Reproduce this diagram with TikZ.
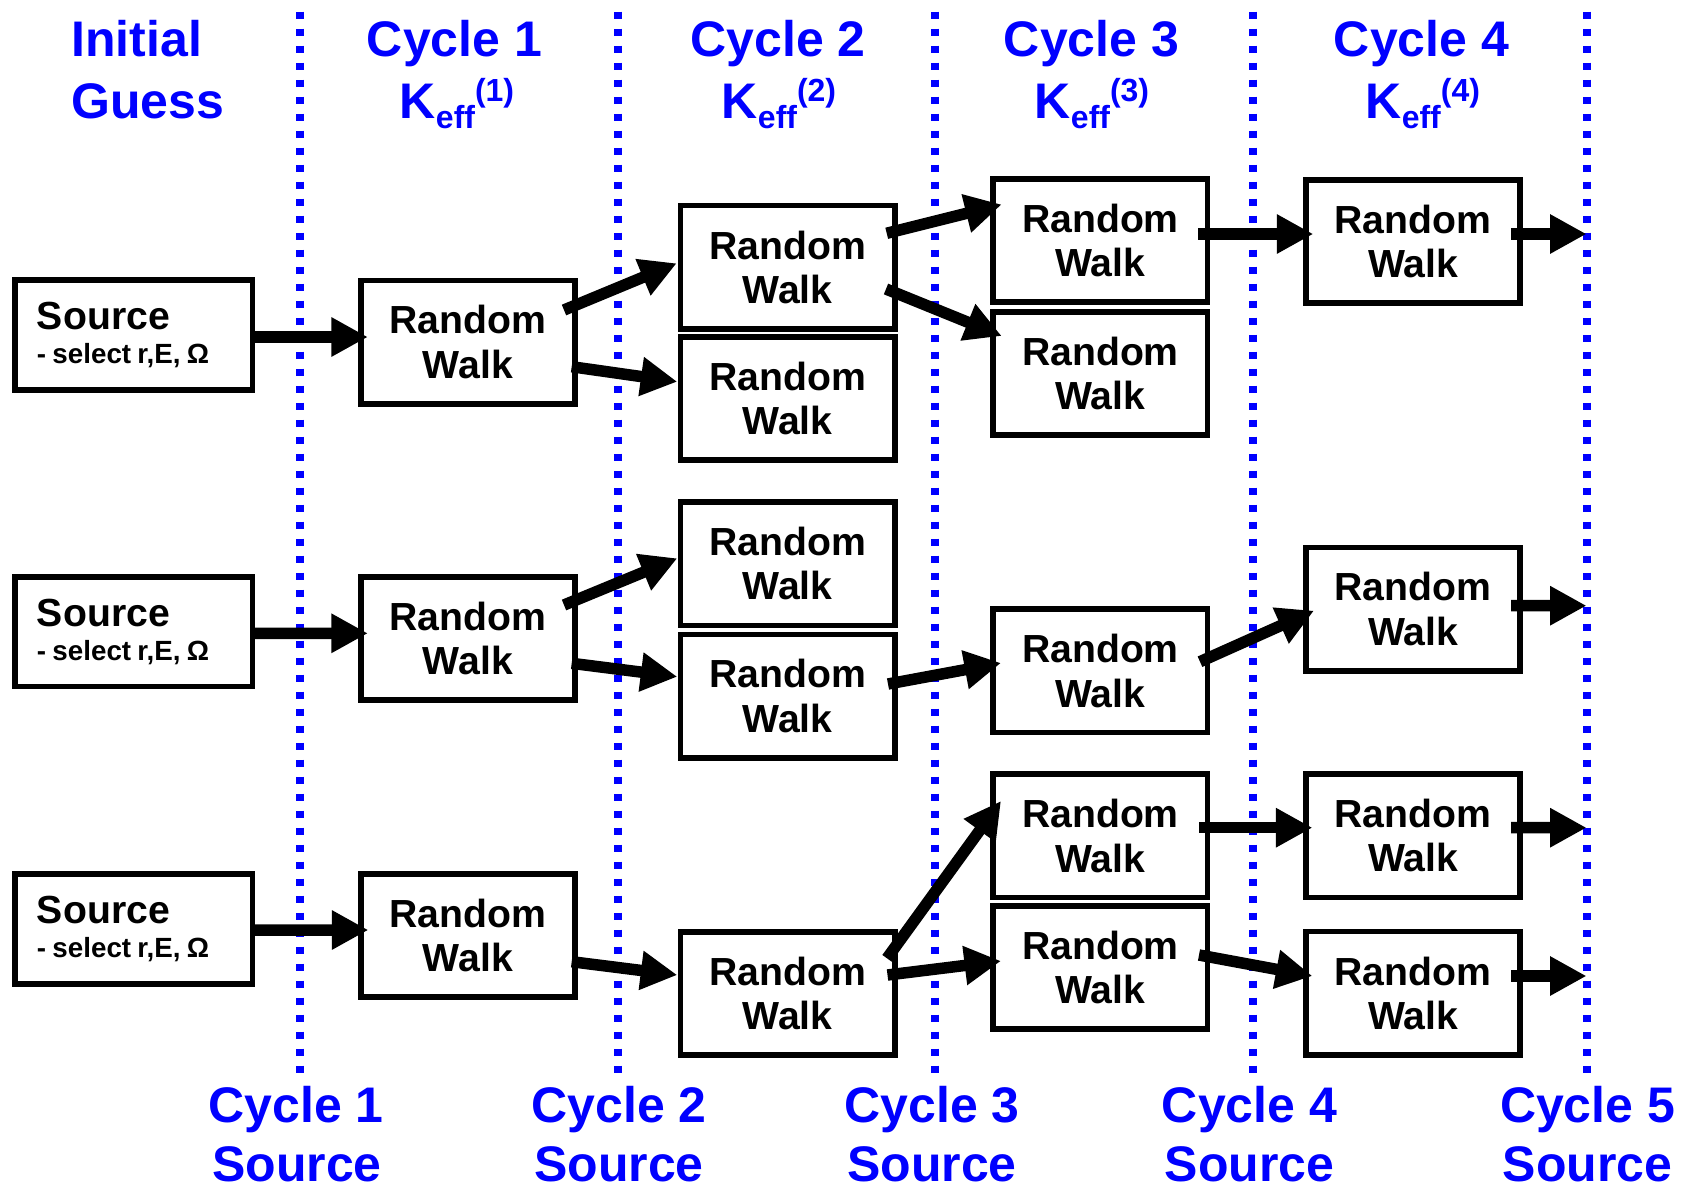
\documentclass[tikz,border=0pt]{standalone}
\usepackage{fontspec}
\setmainfont{Liberation Sans}
\usetikzlibrary{arrows.meta,calc}
\definecolor{cyc}{RGB}{0,0,255}
\newcommand\Keffn[1]{K\raisebox{-2mm}{\fontsize{18.2}{20}\selectfont eff}\raisebox{3.34mm}{\fontsize{18.2}{20}\selectfont (#1)}}
\newcommand\selline{{\fontsize{15.8}{19.35}\selectfont\spaceskip=0.225em\relax - select r,E, Ω}}
\tikzset{
  rwbox/.style={draw=black, line width=1.14mm, fill=white, minimum width=42.86mm, minimum height=24.66mm,
    inner sep=0pt, outer sep=0pt, align=center, font=\fontsize{22.3}{25.2}\selectfont\bfseries},
  srcbox/.style={draw=black, line width=1.14mm, fill=white, minimum width=47.48mm, minimum height=21.94mm,
    inner xsep=4.4mm, inner ysep=0pt, outer sep=0pt, text width=38.7mm, align=left,
    font=\fontsize{22.3}{19.35}\selectfont\bfseries},
  hdr/.style={text=cyc, inner sep=0pt, outer sep=0pt, anchor=base, font=\fontsize{28.45}{34.7}\selectfont\bfseries},
  flow/.style={line width=2.3mm, -{Triangle[length=7.3mm,width=7.4mm]}},
  cycsep/.style={draw=cyc, line width=1.6mm, dash pattern=on 1.46mm off 1.94mm},
}
\begin{document}
\begin{tikzpicture}[x=0.2mm,y=-0.2mm]
\useasboundingbox (0,0) rectangle (1682,1189);

% cycle separators
\foreach \i/\x in {1/300.4,2/618,3/935.4,4/1253,5/1587.3}{
  \coordinate (t\i) at (\x,11.7);
  \coordinate (u\i) at (\x,1074);
  \draw[cycsep] (t\i) -- (u\i);
}

% headers
\node[hdr, anchor=base west] (h0a) at (71.5,56.7) {Initial};
\node[hdr, anchor=base west] (h0b) at (71.5,118.3) {Guess};
\node[hdr] (h1a) at (454.5,56.7) {Cycle 1};
\node[hdr] (h1b) at (457,118.3) {\Keffn{1}};
\node[hdr] (h2a) at (778,56.7) {Cycle 2};
\node[hdr] (h2b) at (779,118.3) {\Keffn{2}};
\node[hdr] (h3a) at (1091.5,56.7) {Cycle 3};
\node[hdr] (h3b) at (1092,118.3) {\Keffn{3}};
\node[hdr] (h4a) at (1421.5,56.7) {Cycle 4};
\node[hdr] (h4b) at (1422.8,118.3) {\Keffn{4}};

% bottom labels
\node[hdr] (b1a) at (296,1122) {Cycle 1};
\node[hdr] (b1b) at (297,1181.5) {Source};
\node[hdr] (b2a) at (619,1122) {Cycle 2};
\node[hdr] (b2b) at (619,1181.5) {Source};
\node[hdr] (b3a) at (932,1122) {Cycle 3};
\node[hdr] (b3b) at (932,1181.5) {Source};
\node[hdr] (b4a) at (1249.5,1122) {Cycle 4};
\node[hdr] (b4b) at (1249.5,1181.5) {Source};
\node[hdr] (b5a) at (1587.6,1122) {Cycle 5};
\node[hdr] (b5b) at (1587.6,1181.5) {Source};

% source boxes
\node[srcbox] (src1) at (133.75,335) {Source\\\selline};
\node[srcbox] (src2) at (133.75,631.7) {Source\\\selline};
\node[srcbox] (src3) at (133.75,928.8) {Source\\\selline};

% random walk boxes
\node[rwbox] (rw1a) at (467.85,342) {Random\\Walk};
\node[rwbox] (rw1b) at (467.85,638.5) {Random\\Walk};
\node[rwbox] (rw1c) at (467.85,935.5) {Random\\Walk};

\node[rwbox] (A) at (787.6,267.2) {Random\\Walk};
\node[rwbox] (B) at (787.6,398.6) {Random\\Walk};
\node[rwbox] (C) at (787.6,563.8) {Random\\Walk};
\node[rwbox] (D) at (787.6,696) {Random\\Walk};
\node[rwbox] (E) at (787.6,993.3) {Random\\Walk};

\node[rwbox] (F) at (1100.4,240.5) {Random\\Walk};
\node[rwbox] (G) at (1100.4,373.3) {Random\\Walk};
\node[rwbox] (H) at (1100.4,670.9) {Random\\Walk};
\node[rwbox] (I) at (1100.4,835.9) {Random\\Walk};
\node[rwbox] (J) at (1100.4,967.5) {Random\\Walk};

\node[rwbox] (K) at (1413,241.5) {Random\\Walk};
\node[rwbox] (L) at (1413,609) {Random\\Walk};
\node[rwbox] (M) at (1413,835.8) {Random\\Walk};
\node[rwbox] (N) at (1413,993.2) {Random\\Walk};

% free ends of the last arrows
\coordinate (o1) at (1586.5,234);
\coordinate (o2) at (1586.5,605.7);
\coordinate (o3) at (1586.5,827.7);
\coordinate (o4) at (1586.5,976);

% arrows
\draw[flow] ($(src1)+(119,2)$) -- ($(rw1a)+(-100,-5)$);
\draw[flow] ($(src2)+(119,1.6)$) -- ($(rw1b)+(-100,-5.2)$);
\draw[flow] ($(src3)+(119,1.2)$) -- ($(rw1c)+(-99.5,-5.5)$);

\draw[flow] ($(rw1a)+(96.15,-32)$) -- ($(A)+(-110.9,-3.9)$);
\draw[flow] ($(rw1a)+(103.85,24.7)$) -- ($(B)+(-110.3,-16.9)$);
\draw[flow] ($(rw1b)+(96.15,-33.5)$) -- ($(C)+(-110.3,-5.5)$);
\draw[flow] ($(rw1b)+(103.85,24.8)$) -- ($(D)+(-110.3,-19.3)$);
\draw[flow] ($(rw1c)+(103.85,26.2)$) -- ($(E)+(-110.3,-18.3)$);

\draw[flow] ($(A)+(99.1,-33.9)$) -- ($(F)+(-98.7,-36)$);
\draw[flow] ($(A)+(98.4,21.8)$) -- ($(G)+(-98.7,-37.3)$);
\draw[flow] ($(D)+(100.4,-12)$) -- ($(H)+(-99.4,-7.9)$);
\draw[flow] ($(E)+(99.4,-35)$) -- ($(I)+(-99.4,-34.9)$);
\draw[flow] ($(E)+(99.9,-18.3)$) -- ($(J)+(-99.4,-6.5)$);

\draw[flow] ($(F)+(97.9,-6.5)$) -- ($(K)+(-99.7,-7.5)$);
\draw[flow] ($(H)+(99.6,-9.2)$) -- ($(L)+(-99,1.7)$);
\draw[flow] ($(I)+(98.6,-8.2)$) -- ($(M)+(-100.6,-8.1)$);
\draw[flow] ($(J)+(98.6,-12.5)$) -- ($(N)+(-100.6,-17.2)$);

\draw[flow] ($(K)+(98,-7.5)$) -- (o1);
\draw[flow] ($(L)+(98,-3.3)$) -- (o2);
\draw[flow] ($(M)+(98,-8.1)$) -- (o3);
\draw[flow] ($(N)+(98,-17.2)$) -- (o4);
\end{tikzpicture}
\end{document}
